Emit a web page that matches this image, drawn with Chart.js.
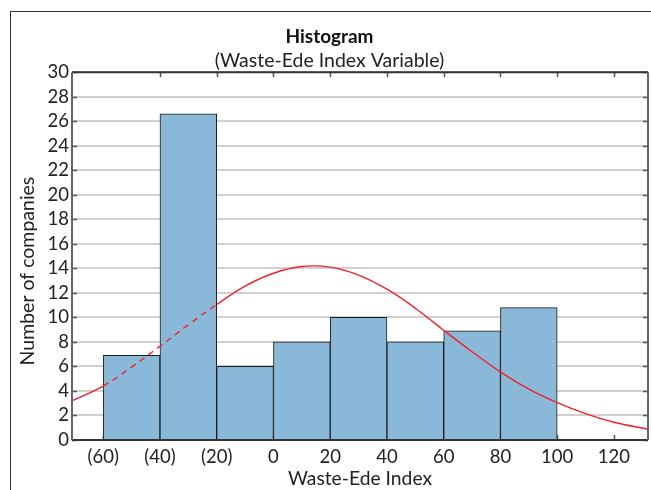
<!DOCTYPE html>
<html>
<head>
<meta charset="utf-8">
<script src="https://cdn.jsdelivr.net/npm/chart.js@4/dist/chart.umd.min.js"></script>
<style>
  html, body { margin: 0; padding: 0; background: #fff; overflow: hidden; }
  #frame {
    position: absolute; left: 10px; top: 11px; width: 700px; height: 500px;
    border-left: 1px solid #333; border-top: 1px solid #333;
  }
  #chart { position: absolute; left: 11px; top: 12px; }
</style>
</head>
<body>
<div id="frame"></div>
<canvas id="chart" width="686" height="478"></canvas>
<script>
// histogram bins (centre of each 20-wide bin) and counts
const binCenters = [-50, -30, -10, 10, 30, 50, 70, 90];
const binCounts = [6.9, 26.6, 6, 8, 10, 8, 8.9, 10.8];

// fitted normal curve
const curveX = [-71, -60, -50, -40, -30, -20, -10, 0, 10, 20, 30, 40, 50, 60, 70, 80, 90, 100, 110, 120, 132];
const curveY = [3.2, 4.4, 5.95, 7.65, 9.4, 11.05, 12.55, 13.6, 14.15, 14.1, 13.45, 12.3, 10.75, 8.95, 7.2, 5.55, 4.15, 3.05, 2.15, 1.45, 0.88];

const xTickValues = [-60, -40, -20, 0, 20, 40, 60, 80, 100, 120];
const yTickValues = [0, 2, 4, 6, 8, 10, 12, 14, 16, 18, 20, 22, 24, 26, 28, 30];

const fontFamily = "Lato, 'Open Sans', sans-serif";

// inward tick marks on all four sides, drawn before the bars
const innerTicks = {
    id: 'innerTicks',
    beforeDatasetsDraw(chart) {
        const {ctx, chartArea: a, scales: {x, y}} = chart;
        ctx.save();
        ctx.strokeStyle = '#555';
        ctx.lineWidth = 1.5;
        ctx.beginPath();
        yTickValues.forEach((v) => {
            const py = Math.round(y.getPixelForValue(v)) + 0.5;
            ctx.moveTo(a.left, py); ctx.lineTo(a.left + 5, py);
            ctx.moveTo(a.right, py); ctx.lineTo(a.right - 5, py);
        });
        xTickValues.forEach((v, i) => {
            const px = Math.round(x.getPixelForValue(v)) + 0.5;
            ctx.moveTo(px, a.bottom); ctx.lineTo(px, a.bottom - 5);
            if (i > 0) { ctx.moveTo(px, a.top); ctx.lineTo(px, a.top + 5); }
        });
        ctx.stroke();
        ctx.restore();
    },
    afterDatasetsDraw(chart) {
        const {ctx, chartArea: a} = chart;
        ctx.save();
        ctx.lineWidth = 2;
        ctx.strokeStyle = '#333';
        ctx.beginPath();
        ctx.moveTo(a.left, a.top); ctx.lineTo(a.right, a.top);
        ctx.moveTo(a.left, a.bottom); ctx.lineTo(a.right, a.bottom);
        ctx.stroke();
        ctx.strokeStyle = '#666';
        ctx.beginPath();
        ctx.moveTo(a.left, a.top); ctx.lineTo(a.left, a.bottom);
        ctx.moveTo(a.right, a.top); ctx.lineTo(a.right, a.bottom);
        ctx.stroke();
        ctx.restore();
    }
};

const ctx = document.getElementById('chart').getContext('2d');
new Chart(ctx, {
    data: {
        datasets: [
            {
                type: 'line',
                label: 'Normal fit',
                data: curveX.map((x, i) => ({x: x, y: curveY[i]})),
                borderColor: '#f0202a',
                borderWidth: 1.4,
                pointRadius: 0,
                tension: 0.4,
                segment: {
                    borderDash: (c) => (c.p0.parsed.x >= -60 && c.p1.parsed.x <= -20) ? [6, 5] : undefined
                },
                order: 0
            },
            {
                type: 'bar',
                label: 'Companies',
                data: binCenters.map((x, i) => ({x: x, y: binCounts[i]})),
                backgroundColor: '#8ab8d8',
                borderColor: '#1c1c1c',
                borderWidth: 1,
                barPercentage: 1,
                categoryPercentage: 1,
                order: 1
            }
        ]
    },
    options: {
        responsive: false,
        animation: false,
        layout: {padding: {left: 0, right: 49, top: 0, bottom: 0}},
        plugins: {
            legend: {display: false},
            tooltip: {enabled: false},
            title: {
                display: true,
                text: 'Histogram',
                color: '#111',
                font: {family: fontFamily, size: 19, weight: 'bold', lineHeight: 1.2},
                padding: {top: 13, bottom: 1}
            },
            subtitle: {
                display: true,
                text: '(Waste-Ede Index Variable)',
                color: '#222',
                font: {family: fontFamily, size: 19.5, lineHeight: 1.2},
                padding: {top: 0, bottom: 0}
            }
        },
        scales: {
            x: {
                type: 'linear',
                offset: false,
                min: -71,
                max: 132,
                afterBuildTicks: (scale) => {
                    scale.ticks = xTickValues.map((v) => ({value: v}));
                },
                afterFit: (scale) => { scale.height = 50; },
                grid: {display: false, drawTicks: false, tickLength: 0},
                border: {display: false},
                ticks: {
                    color: '#222',
                    padding: 6,
                    maxRotation: 0,
                    autoSkip: false,
                    font: {family: fontFamily, size: 18.5},
                    callback: (v) => v < 0 ? '(' + Math.abs(v) + ')' : String(v)
                },
                title: {
                    display: true,
                    text: 'Waste-Ede Index',
                    color: '#222',
                    font: {family: fontFamily, size: 19.3, lineHeight: 1.2},
                    padding: {top: 0, bottom: 0}
                }
            },
            y: {
                min: 0,
                max: 30,
                afterBuildTicks: (scale) => {
                    scale.ticks = yTickValues.map((v) => ({value: v}));
                },
                afterFit: (scale) => { scale.width = 61; },
                grid: {color: '#d0d0d0', lineWidth: 2, drawTicks: false},
                border: {display: false},
                ticks: {
                    color: '#222',
                    padding: 3,
                    autoSkip: false,
                    font: {family: fontFamily, size: 18.5}
                },
                title: {
                    display: true,
                    // trailing spaces nudge the label a bit lower, as in the original
                    text: 'Number of companies      ',
                    color: '#222',
                    font: {family: fontFamily, size: 19.5, lineHeight: 1.2},
                    padding: {top: 5, bottom: 0}
                }
            }
        }
    },
    plugins: [innerTicks]
});
</script>
</body>
</html>
